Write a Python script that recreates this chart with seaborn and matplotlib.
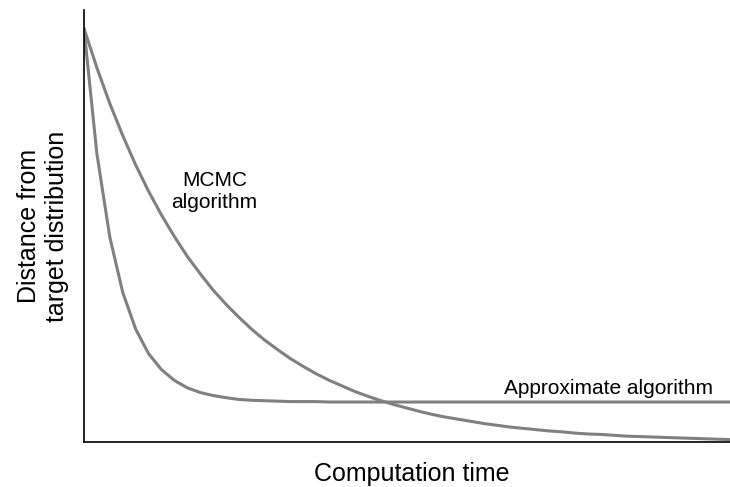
import seaborn as sns
import pandas as pd
import matplotlib.pyplot as plt

sns.set_style("white")
plt.rcParams['font.family'] = ["Liberation Sans", "DejaVu Sans"]
plt.rcParams['text.color'] = "black"
plt.rcParams['axes.labelcolor'] = "black"

# computation steps (0..50)
steps = list(range(51))

# distance from target (axis scale 0..1)
mcmc = [0.958, 0.867, 0.784, 0.710, 0.642, 0.581, 0.526, 0.476, 0.430, 0.390,
        0.352, 0.319, 0.289, 0.261, 0.236, 0.214, 0.193, 0.175, 0.158, 0.143,
        0.130, 0.117, 0.106, 0.096, 0.087, 0.079, 0.071, 0.064, 0.058, 0.053,
        0.048, 0.043, 0.039, 0.035, 0.032, 0.029, 0.026, 0.024, 0.021, 0.019,
        0.018, 0.016, 0.014, 0.013, 0.012, 0.011, 0.010, 0.009, 0.008, 0.007,
        0.006]
approx = [0.958, 0.668, 0.475, 0.347, 0.262, 0.205, 0.168, 0.143, 0.126, 0.115,
          0.108, 0.103, 0.099, 0.097, 0.096, 0.095, 0.094, 0.094, 0.094, 0.093,
          0.093, 0.093, 0.093, 0.093, 0.093, 0.093, 0.093, 0.093, 0.093, 0.093,
          0.093, 0.093, 0.093, 0.093, 0.093, 0.093, 0.093, 0.093, 0.093, 0.093,
          0.093, 0.093, 0.093, 0.093, 0.093, 0.093, 0.093, 0.093, 0.093, 0.093,
          0.093]

df = pd.DataFrame({
    "step": steps * 2,
    "distance": mcmc + approx,
    "method": ["MCMC"] * len(steps) + ["Approximate"] * len(steps),
})

fig = plt.figure(figsize=(7.3, 4.87), dpi=100)
ax = fig.add_axes([0.115, 0.092, 0.885, 0.887])

sns.lineplot(data=df, x="step", y="distance", hue="method",
             palette=["#808080", "#808080"], linewidth=2.2, legend=False, ax=ax)

ax.set_xlim(0, 50)
ax.set_ylim(0, 1)
ax.set_xticks([])
ax.set_yticks([])
sns.despine(ax=ax)
for s in ["left", "bottom"]:
    ax.spines[s].set_color("black")
    ax.spines[s].set_linewidth(1.2)

ax.set_xlabel("Computation time", fontsize=18, labelpad=14)
ax.xaxis.label.set_x(0.508)
ax.set_ylabel("Distance from\ntarget distribution", fontsize=18, labelpad=11)

ax.text(10.1, 0.58, "MCMC\nalgorithm", fontsize=15, ha="center", va="center")
ax.text(48.7, 0.125, "Approximate algorithm", fontsize=15, ha="right", va="center")

fig.savefig("out.png", dpi=100)
